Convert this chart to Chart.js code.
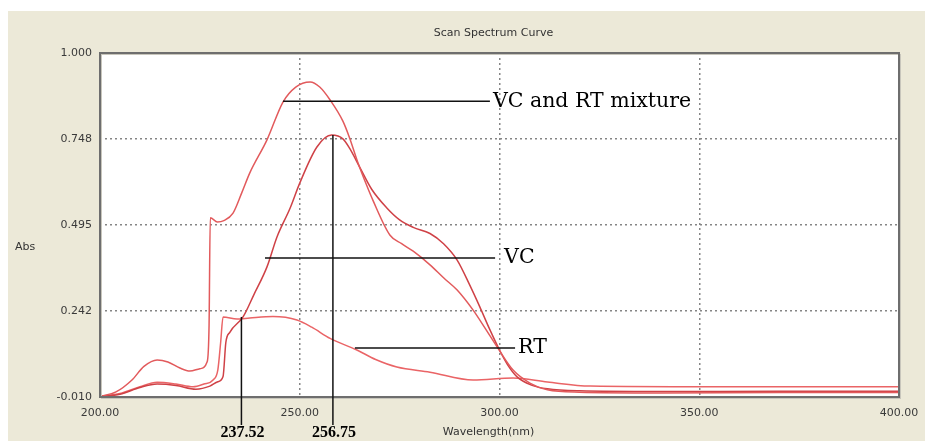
<!DOCTYPE html>
<html>
<head>
<meta charset="utf-8">
<script src="https://cdn.jsdelivr.net/npm/chart.js@4/dist/chart.umd.min.js"></script>
<style>
  html, body { margin: 0; padding: 0; background: #ffffff; }
  #chart-id { display: block; }
</style>
</head>
<body>
<canvas id="chart-id" width="925" height="441"></canvas>
<script>
// axis ticks
const wavelengthTicks = [200, 250, 300, 350, 400];
const wavelengthTickLabels = ['200.00', '250.00', '300.00', '350.00', '400.00'];
const absTicks = [-0.010, 0.2425, 0.495, 0.7475, 1.000];
const absTickLabels = ['-0.010', '0.242', '0.495', '0.748', '1.000'];

// VC and RT mixture
const mixtureNm = [200, 204, 208, 211, 214.3, 217, 220, 222.5, 225, 226.8, 227.3, 227.6, 229.4, 231, 233.3, 235.5, 237.5, 241.8, 245.8, 249, 252.6, 255, 257.6, 260.8, 262.5, 264.5, 266.8, 268.3, 272.6, 275.5, 278.4, 282.6, 286, 289.4, 293.4, 296.5, 299.4, 303.4, 307.6, 312, 320, 340, 370, 400];
const mixtureAbs = [-0.008, 0.005, 0.04, 0.08, 0.099, 0.093, 0.075, 0.066, 0.073, 0.093, 0.2, 0.516, 0.504, 0.508, 0.53, 0.59, 0.648, 0.745, 0.856, 0.9, 0.915, 0.9, 0.862, 0.8, 0.75, 0.68, 0.61, 0.568, 0.465, 0.44, 0.418, 0.378, 0.34, 0.304, 0.245, 0.19, 0.137, 0.069, 0.031, 0.011, 0.004, 0.002, 0.003, 0.003];

// VC
const vcNm = [200, 205, 210, 214.3, 219, 224, 227.5, 229.5, 230.8, 231.5, 232.5, 235.8, 238.5, 241.8, 244.3, 247.6, 250, 254.3, 258, 260.8, 262.5, 265, 268, 271.8, 275, 278.4, 282.6, 286, 289.4, 292.5, 295.1, 297.5, 300, 302, 304.4, 308, 312, 320, 340, 370, 400];
const vcAbs = [-0.009, -0.002, 0.018, 0.028, 0.024, 0.013, 0.022, 0.035, 0.05, 0.15, 0.18, 0.225, 0.29, 0.372, 0.46, 0.545, 0.618, 0.724, 0.759, 0.748, 0.72, 0.665, 0.6, 0.545, 0.51, 0.488, 0.47, 0.44, 0.392, 0.32, 0.254, 0.19, 0.128, 0.085, 0.049, 0.025, 0.014, 0.008, 0.006, 0.007, 0.007];

// RT
const rtNm = [200, 205, 210, 214.3, 219, 223.3, 226, 228.3, 229.5, 230.2, 230.8, 234.3, 237.5, 243.3, 249.3, 253, 257.6, 264.3, 269, 274.3, 282.6, 293.4, 303.4, 312, 322.7, 353, 400];
const rtAbs = [-0.008, 0.0, 0.02, 0.033, 0.028, 0.02, 0.028, 0.04, 0.07, 0.15, 0.225, 0.219, 0.222, 0.226, 0.216, 0.195, 0.162, 0.128, 0.1, 0.078, 0.063, 0.04, 0.046, 0.034, 0.022, 0.02, 0.02];

// call-out labels: text, line start / end (nm), level (Abs)
const calloutTexts = ['VC and RT mixture', 'VC', 'RT'];
const calloutFromNm = [245.8, 241.3, 263.8];
const calloutToNm = [297.6, 298.9, 303.9];
const calloutAbs = [0.858, 0.398, 0.134];

// peak / crossing markers
const markerLabels = ['237.52', '256.75'];
const markerNm = [235.4, 258.3];
const markerAbs = [0.225, 0.759];

function toPoints(xs, ys) {
  return xs.map((x, i) => ({ x: x, y: ys[i] }));
}

const lineStyle = {
  borderWidth: 1.5,
  pointRadius: 0,
  fill: false,
  cubicInterpolationMode: 'monotone',
};

const data = {
  datasets: [
    { label: 'VC and RT mixture', data: toPoints(mixtureNm, mixtureAbs), borderColor: '#e25a5c', ...lineStyle },
    { label: 'VC', data: toPoints(vcNm, vcAbs), borderColor: '#cf4146', ...lineStyle },
    { label: 'RT', data: toPoints(rtNm, rtAbs), borderColor: '#ea6466', ...lineStyle },
  ],
};

const frame = {
  id: 'frame',
  beforeDraw(chart) {
    const c = chart.ctx;
    const a = chart.chartArea;
    c.save();
    c.fillStyle = '#ece9d8';
    c.fillRect(8, 11, chart.width - 8, chart.height - 11);
    c.fillStyle = '#ffffff';
    c.fillRect(a.left, a.top, a.right - a.left, a.bottom - a.top);
    c.restore();
  },
  afterDraw(chart) {
    const c = chart.ctx;
    const a = chart.chartArea;
    const x = chart.scales.x;
    const y = chart.scales.y;
    c.save();
    // plot border
    c.strokeStyle = '#c8c6bc';
    c.lineWidth = 1;
    c.strokeRect(a.left + 1.5, a.top + 1.5, a.right - a.left, a.bottom - a.top);
    c.strokeStyle = '#6e6e6e';
    c.lineWidth = 2;
    c.strokeRect(a.left, a.top, a.right - a.left, a.bottom - a.top);

    // texts
    c.fillStyle = '#333333';
    c.font = '11px "DejaVu Sans"';
    c.textAlign = 'center';
    c.textBaseline = 'middle';
    c.fillText('Scan Spectrum Curve', (a.left + a.right) / 2 - 6, a.top - 20);
    c.fillText('Wavelength(nm)', (a.left + a.right) / 2 - 11, a.bottom + 35);
    c.fillText('Abs', 25, (a.top + a.bottom) / 2 + 22);

    // call-outs
    c.strokeStyle = '#111111';
    c.lineWidth = 1.5;
    c.fillStyle = '#000000';
    c.textAlign = 'left';
    c.font = '20.5px "DejaVu Serif"';
    calloutTexts.forEach((t, i) => {
      const py = y.getPixelForValue(calloutAbs[i]);
      const x1 = x.getPixelForValue(calloutFromNm[i]);
      const x2 = x.getPixelForValue(calloutToNm[i]);
      c.beginPath();
      c.moveTo(x1, py);
      c.lineTo(x2, py);
      c.stroke();
      c.fillText(t, x2 + (i === 1 ? 9 : 3), py);
    });

    // markers
    c.textAlign = 'center';
    c.font = 'bold 16px "Liberation Serif"';
    markerLabels.forEach((t, i) => {
      const px = x.getPixelForValue(markerNm[i]);
      const py = y.getPixelForValue(markerAbs[i]);
      c.beginPath();
      c.moveTo(px, py);
      c.lineTo(px, a.bottom + 28);
      c.stroke();
      c.fillText(t, px + 1, a.bottom + 36);
    });
    c.restore();
  },
};

const gridColor = (n) => (ctx) =>
  (ctx.index === 0 || ctx.index === n - 1) ? 'rgba(0,0,0,0)' : '#858585';

const config = {
  type: 'line',
  data: data,
  options: {
    responsive: false,
    animation: false,
    layout: { padding: { left: 0, top: 53, right: 26, bottom: 0 } },
    plugins: {
      legend: { display: false },
      tooltip: { enabled: false },
    },
    scales: {
      x: {
        type: 'linear',
        min: 200,
        max: 400,
        afterBuildTicks: (s) => { s.ticks = wavelengthTicks.map(v => ({ value: v })); },
        afterFit: (s) => { s.height = 44; s.paddingLeft = 0; s.paddingRight = 0; },
        ticks: {
          padding: 10,
          maxRotation: 0,
          autoSkip: false,
          color: '#3a3a3a',
          font: { family: 'DejaVu Sans', size: 11 },
          callback: (v, i) => wavelengthTickLabels[i],
        },
        grid: { color: gridColor(wavelengthTicks.length), lineWidth: 1.5, drawTicks: false },
        border: { display: false, dash: [2, 3] },
      },
      y: {
        type: 'linear',
        min: -0.010,
        max: 1.000,
        afterBuildTicks: (s) => { s.ticks = absTicks.map(v => ({ value: v })); },
        afterFit: (s) => { s.width = 100; s.paddingTop = 0; s.paddingBottom = 0; },
        ticks: {
          padding: 8,
          autoSkip: false,
          color: '#3a3a3a',
          font: { family: 'DejaVu Sans', size: 11 },
          callback: (v, i) => absTickLabels[i],
        },
        grid: { color: gridColor(absTicks.length), lineWidth: 1.5, drawTicks: false },
        border: { display: false, dash: [2, 3] },
      },
    },
  },
  plugins: [frame],
};

let myChart = new Chart(document.getElementById('chart-id'), config);
</script>
</body>
</html>
